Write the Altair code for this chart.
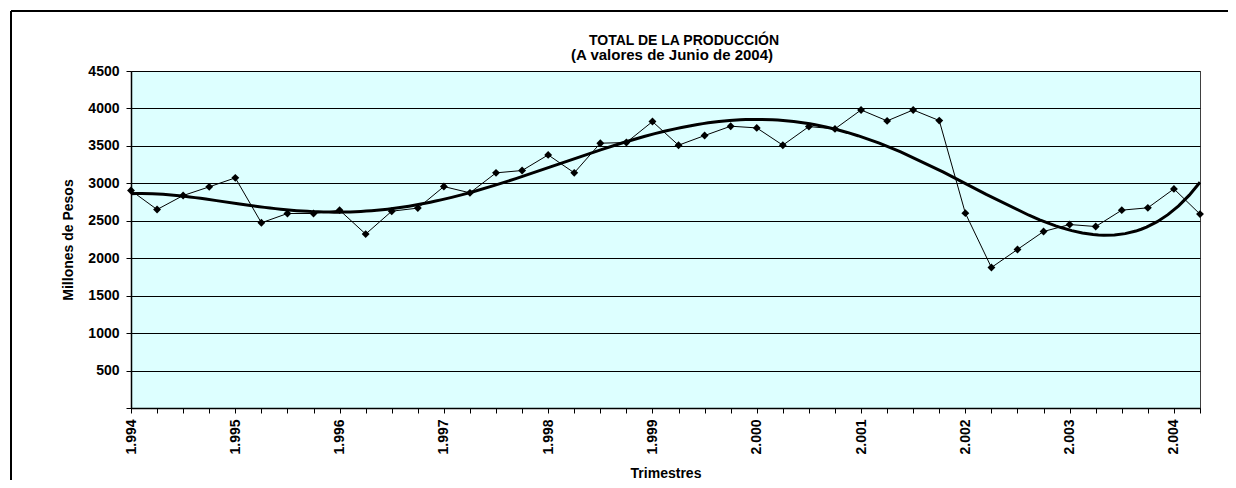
import json
import altair as alt
import pandas as pd

# Quarterly production (millions of pesos), 1994 Q1 .. 2004 Q2
quarter_index = list(range(42))
produccion = [
    2904, 2650, 2837, 2953, 3073, 2473, 2597, 2597, 2642, 2322,
    2628, 2669, 2957, 2873, 3140, 3171, 3380, 3140, 3536, 3545,
    3825, 3509, 3638, 3763, 3740, 3509, 3758, 3727, 3980, 3834,
    3980, 3838, 2602, 1876, 2117, 2357, 2450, 2423, 2642, 2673,
    2926, 2589,
]
year_labels = ["1.994", "1.995", "1.996", "1.997", "1.998", "1.999",
               "2.000", "2.001", "2.002", "2.003", "2.004"]
y_ticks = [0, 500, 1000, 1500, 2000, 2500, 3000, 3500, 4000, 4500]
title_text = "TOTAL DE LA PRODUCCIÓN"
subtitle_text = "(A valores de Junio de 2004)"

df = pd.DataFrame({"t": quarter_index, "v": produccion})

FONT = "Liberation Sans"
label_expr = f"datum.value % 4 == 0 ? {json.dumps(year_labels)}[datum.value / 4] : ''"

W, H = 1069, 337
PAD = {"left": 123, "top": 63, "right": 28, "bottom": 72}

x_enc = alt.X(
    "t:Q",
    scale=alt.Scale(domain=[0, 41], nice=False, zero=False),
    axis=alt.Axis(
        title="Trimestres", values=quarter_index, labelExpr=label_expr,
        labelAngle=-90, labelFont=FONT, labelFontSize=14, labelFontWeight="bold",
        labelColor="black", labelPadding=6, tickSize=5, tickColor="black",
        domainColor="black", domainWidth=1.5, grid=False,
        titleFont=FONT, titleFontSize=14, titleFontWeight="bold", titleColor="black",
        titlePadding=12, labelOverlap=False, labelBound=False, labelFlush=False,
    ),
)
y_enc = alt.Y(
    "v:Q",
    scale=alt.Scale(domain=[0, 4500], nice=False),
    axis=alt.Axis(
        title="Millones de Pesos", values=y_ticks,
        labelExpr="datum.value == 0 ? '' : datum.value",
        labelFont=FONT, labelFontSize=14, labelFontWeight="bold", labelColor="black",
        labelPadding=7, tickSize=5, tickColor="black", domainColor="black",
        domainWidth=1.5, grid=True, gridColor="black", gridWidth=1, gridOpacity=1,
        titleFont=FONT, titleFontSize=14, titleFontWeight="bold", titleColor="black",
        titlePadding=12, labelOverlap=False,
    ),
)

base = alt.Chart(df).encode(x=x_enc, y=y_enc)

series = base.mark_line(color="black", strokeWidth=1)
pts = base.mark_point(shape="diamond", filled=True, color="black", size=62, opacity=1)
trend = base.transform_regression(
    "t", "v", method="poly", order=5, extent=[0, 41]
).mark_line(color="black", strokeWidth=3)

one = alt.Chart(alt.Data(values=[{"b": 1}]))
border_top = one.mark_rule(color="black", strokeWidth=2).encode(
    x=alt.value(-120), x2=alt.value(W + PAD["right"]), y=alt.value(-60))
border_left = one.mark_rule(color="black", strokeWidth=2).encode(
    x=alt.value(-120), y=alt.value(-60), y2=alt.value(H + PAD["bottom"]))
title_mark = one.mark_text(
    text=title_text, font=FONT, fontSize=14, fontWeight="bold", color="black",
    align="center", baseline="alphabetic"
).encode(x=alt.value(553), y=alt.value(-26))
subtitle_mark = one.mark_text(
    text=subtitle_text, font=FONT, fontSize=15, fontWeight="bold", color="black",
    align="center", baseline="alphabetic"
).encode(x=alt.value(541), y=alt.value(-11))

chart = alt.layer(border_top, border_left, series, trend, pts, title_mark, subtitle_mark).properties(
    width=W, height=H,
    padding=PAD,
    autosize=alt.AutoSizeParams(type="none"),
    background="white",
).configure_view(
    fill="#DDFFFF", stroke="#404040", strokeWidth=1
)

chart.save("out.html", embed_options={"renderer": "svg", "actions": False})
